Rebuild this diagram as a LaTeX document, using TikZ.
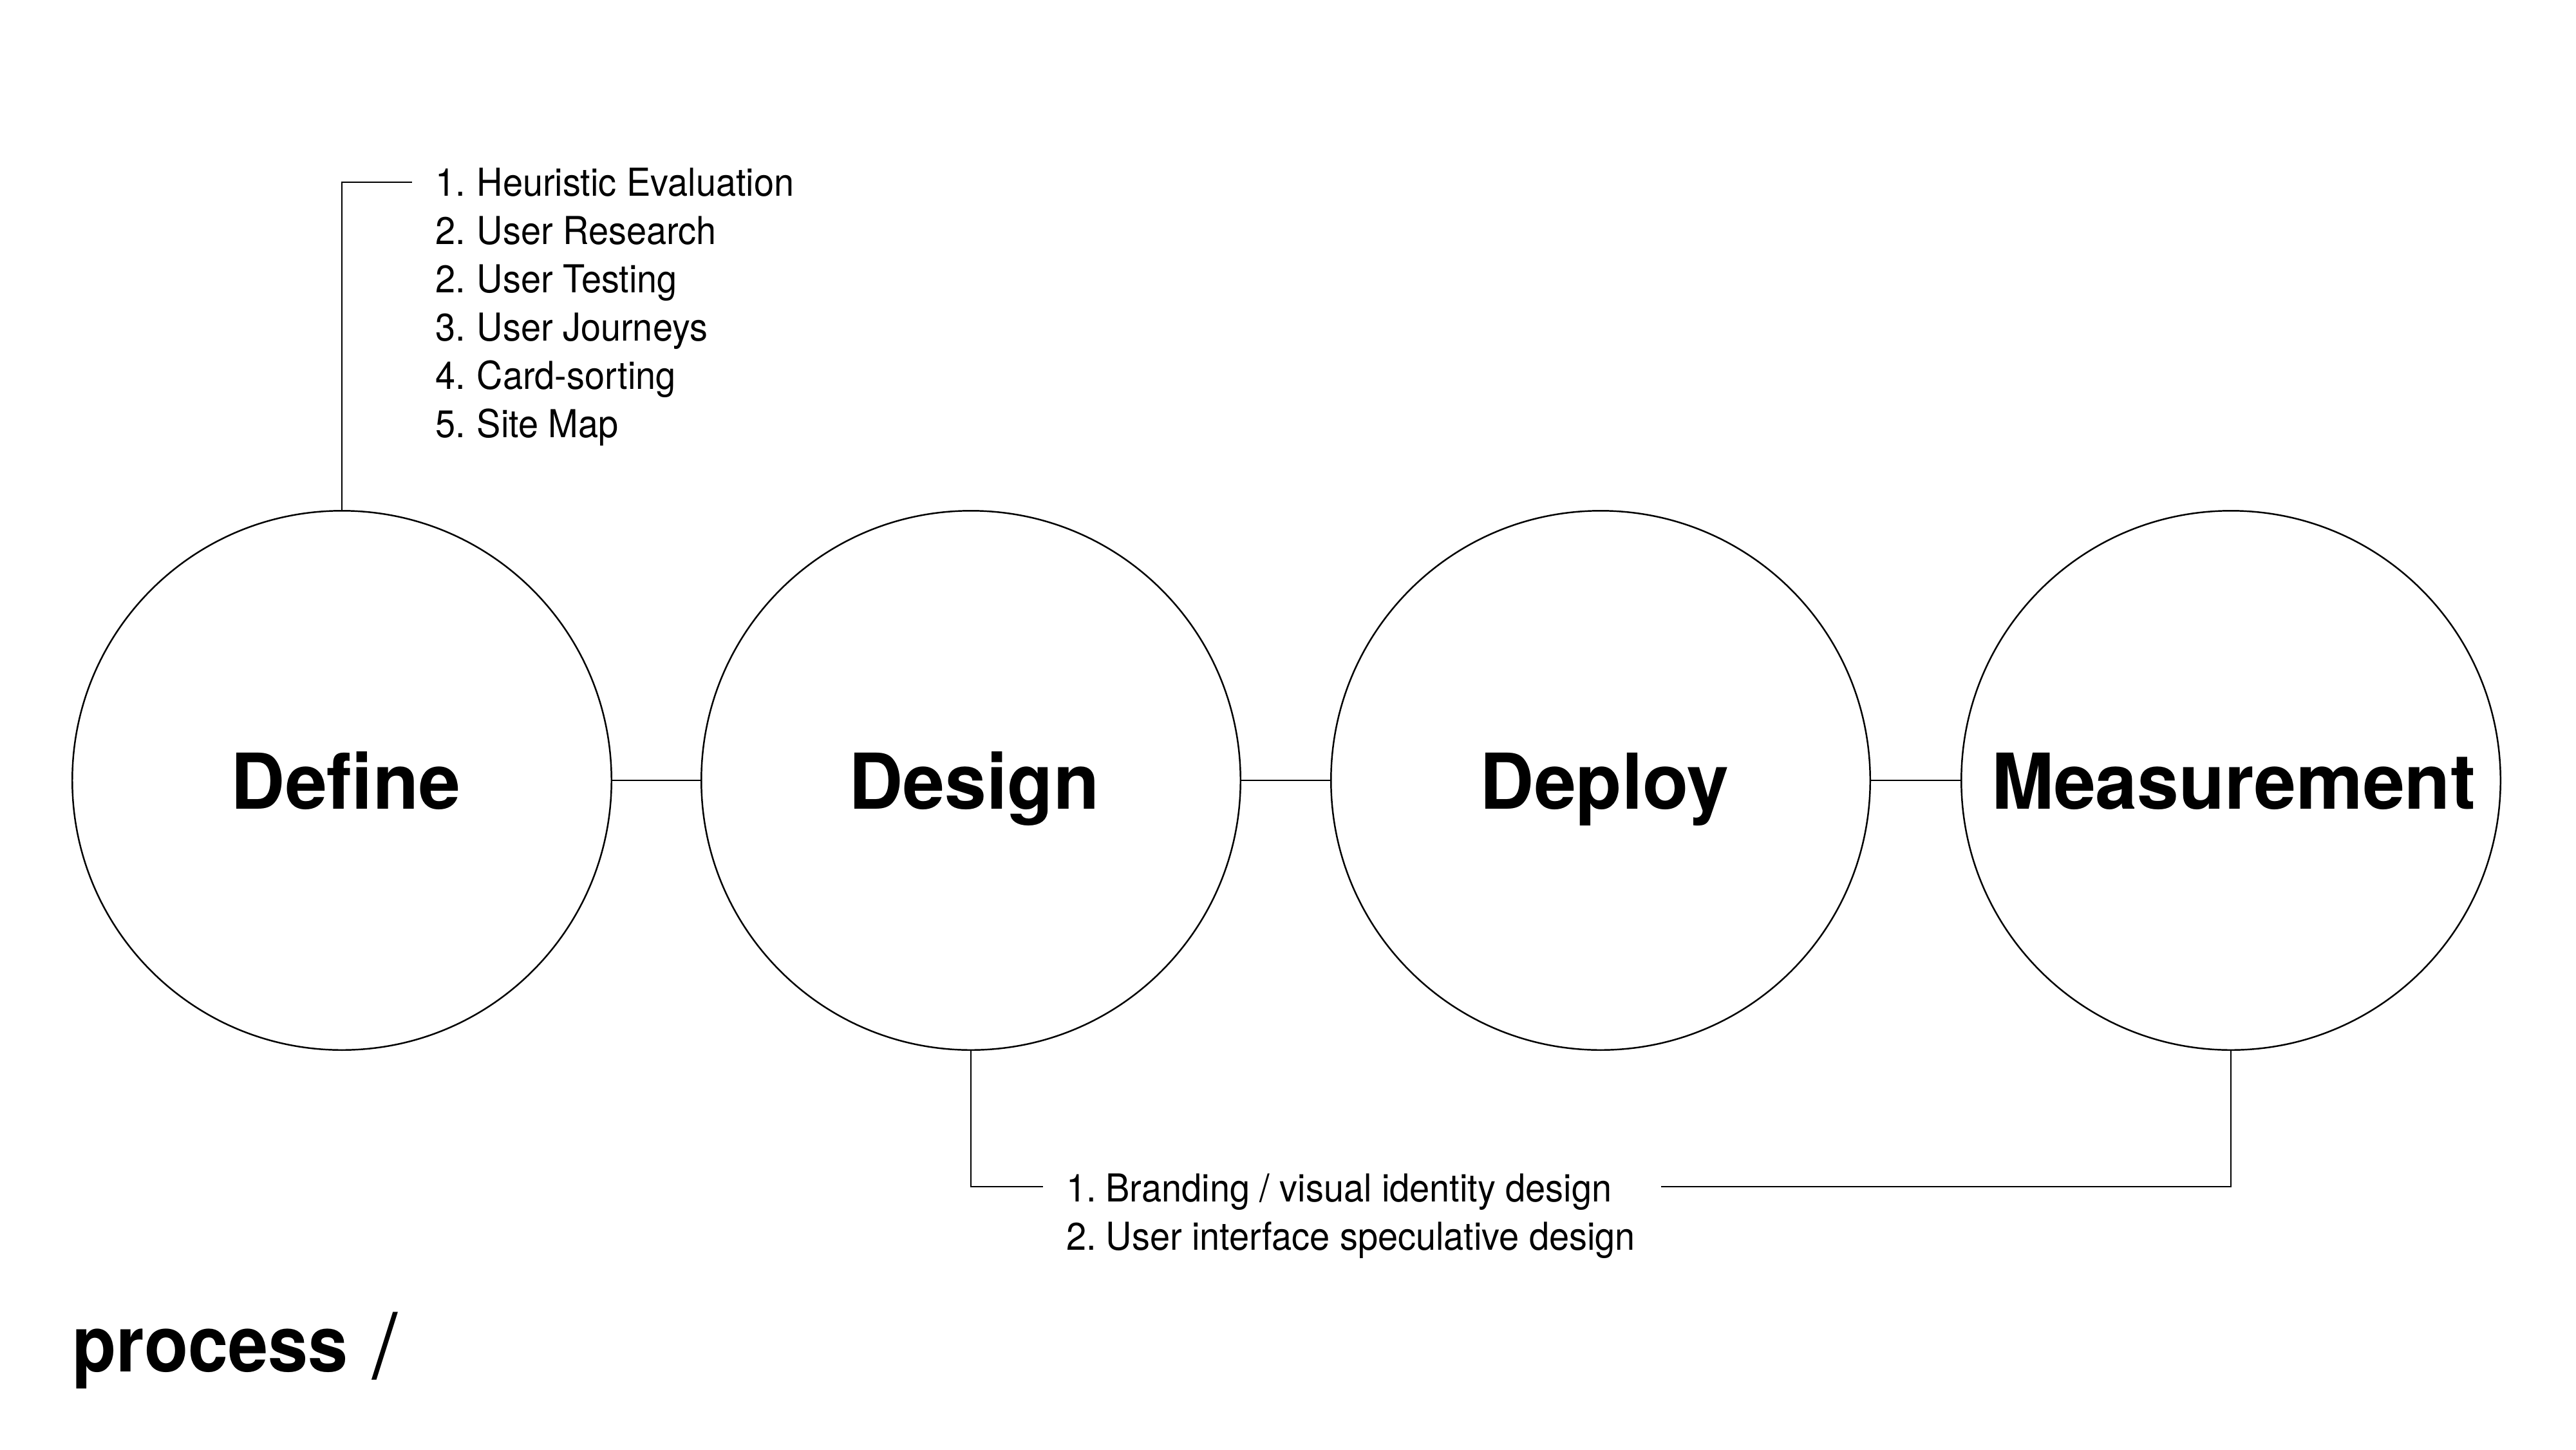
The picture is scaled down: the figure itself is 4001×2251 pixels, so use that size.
\documentclass[tikz,border=0pt]{standalone}
\usepackage{fontspec}
\setmainfont{TeX Gyre Heros}
\newfontfamily\listfont{TeX Gyre Heros}[FakeStretch=0.935]
\newfontfamily\labelfont{TeX Gyre Heros}[FakeStretch=0.975]
\newfontfamily\titlefont{TeX Gyre Heros}[FakeStretch=0.92]
\begin{document}
\begin{tikzpicture}[x=0.01cm,y=-0.01cm,
  stage/.style={circle, draw, line width=0.7pt, minimum size=8.37cm, inner sep=0pt},
  stagelabel/.style={font=\labelfont\bfseries\fontsize{34}{40}\selectfont, anchor=base, inner sep=0pt},
  itemline/.style={font=\listfont\fontsize{17}{21}\selectfont, anchor=base west, inner sep=0pt},
  conn/.style={line width=0.7pt}]
\useasboundingbox[fill=white] (0,0) rectangle (4001,2251);

% stages
\node[stage] (def) at (531,1212) {};
\node[stage] (des) at (1508,1212) {};
\node[stage] (dep) at (2486,1212) {};
\node[stage] (mea) at (3465,1212) {};
\node[stagelabel] (deflab) at (537,1256) {Define};
\node[stagelabel] (deslab) at (1513,1256) {Design};
\node[stagelabel] (deplab) at (2492,1256) {Deploy};
\node[stagelabel] (mealab) at (3469,1256) {Measurement};

\draw[conn] (def) -- (des);
\draw[conn] (des) -- (dep);
\draw[conn] (dep) -- (mea);

% top list
\foreach \n/\txt [count=\i] in {1./Heuristic Evaluation, 2./User Research, 2./User Testing, 3./User Journeys, 4./Card-sorting, 5./Site Map}
  \node[itemline] (top\i) at (676,{304+75*(\i-1)}) {\makebox[0.64cm][l]{\n}\txt};
\coordinate (topend) at (640,283);
\draw[conn] (def.north) |- (topend);

% bottom list
\node[itemline] (bot1) at (1656,1866) {\makebox[0.61cm][l]{1.}Branding / visual identity design};
\node[itemline] (bot2) at (1656,1941) {\makebox[0.61cm][l]{2.}User interface speculative design};
\coordinate (botl) at (1620,1843);
\coordinate (botr) at (2580,1843);
\draw[conn] (des.south) |- (botl);
\draw[conn] (mea.south) |- (botr);

% title
\node[anchor=base west, inner sep=0pt, font=\titlefont\bfseries\fontsize{34.5}{40}\selectfont] (proc) at (112,2130) {process};
\node[anchor=base west, inner sep=0pt, font=\fontsize{40}{48}\selectfont] (slash) at (578,2140) {/};
\end{tikzpicture}
\end{document}
